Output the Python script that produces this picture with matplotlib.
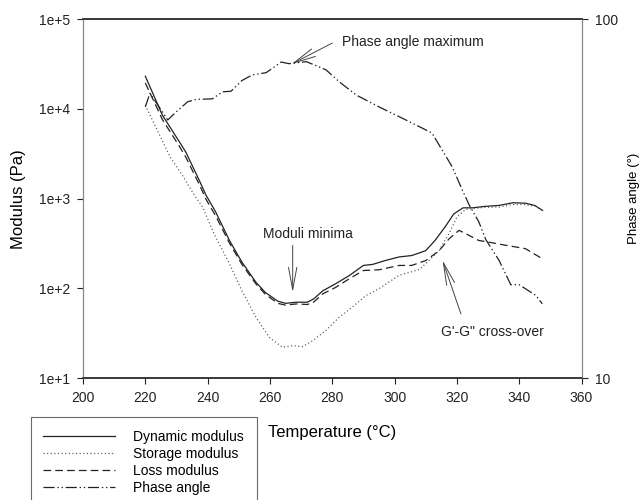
import numpy as np
import matplotlib
matplotlib.use("Agg")
import matplotlib.pyplot as plt
from matplotlib.ticker import FuncFormatter, NullLocator, FixedLocator

plt.rcParams['font.family'] = ['Liberation Sans', 'DejaVu Sans']
plt.rcParams['lines.scale_dashes'] = False

# temperature (°C) and moduli (Pa)
temp_dyn = [220, 225.5, 231, 233, 237.5, 239.5, 242.5, 247, 251, 255.5, 258.5, 262.5,
            265, 268.5, 272, 274, 277, 281, 285.5, 290, 293, 297, 301.5, 305.5, 310,
            313, 316.5, 319, 322, 325, 329, 333.5, 338, 342, 345, 347.5]
dynamic = [23200, 8500, 4270, 3300, 1550, 1090, 720, 342, 196, 117, 90, 72,
           68, 70, 70, 76, 94, 112, 139, 180, 185, 204, 224, 232, 263,
           342, 500, 676, 790, 790, 820, 840, 900, 890, 840, 740]

temp_sto = [220, 224.5, 228, 232, 235.7, 238.4, 242, 247, 251, 255.5, 259.8, 264,
            267.3, 270.5, 273.7, 278, 282.2, 286.5, 290.8, 295, 301.5, 308, 314.3,
            317.5, 320, 322.8, 329, 333.5, 338, 342, 345.3, 347.4]
storage = [11000, 5200, 2900, 1800, 1100, 805, 410, 188, 94, 47.5, 28.4, 22,
           22.9, 22.4, 26, 34, 47.5, 62, 83, 99, 140, 162, 263,
           410, 623, 760, 800, 805, 860, 860, 820, 740]

temp_loss = [220, 225.5, 231, 233, 237.5, 239.5, 242.5, 247, 251, 255.5, 258.5, 262.5,
             265, 268.5, 272, 274, 277, 281, 285.5, 290, 295, 301.5, 305.5, 310,
             314.3, 317.5, 320.7, 322.8, 327, 330.3, 335.7, 342, 347.4]
loss = [19500, 7600, 3800, 2900, 1400, 980, 650, 320, 185, 112, 86, 68,
        65, 67, 66, 70, 87, 102, 128, 158, 161, 180, 180, 204,
        263, 357, 443, 408, 342, 327, 302, 277, 214]

temp_phase = [220, 221.5, 227.2, 229.9, 233.6, 236.3, 241.5, 244.8, 247.5, 251, 254.4,
              258.8, 263.6, 266.2, 271.7, 278, 282.2, 287.7, 295, 305.6, 312, 315.9,
              318.5, 321.3, 324, 327, 329.3, 333.5, 337.3, 340, 342.6, 345.3, 347.4]
phase = [57, 62.2, 52.4, 55.2, 58.9, 59.8, 60, 62.8, 63, 67.5, 70,
         71, 76, 75.2, 76.2, 72.3, 67, 61.5, 57, 51.4, 48.2, 42.3,
         38.8, 34.1, 30.3, 27.3, 24.3, 21.3, 18.2, 18.2, 17.6, 17.0, 16.1]

fig = plt.figure(figsize=(6.44, 5), dpi=100)
ax = fig.add_axes([83 / 644, 1 - 378 / 500, (581.5 - 83) / 644, (378 - 19.3) / 500])
ax2 = ax.twinx()

dark = '#222222'
l1, = ax.plot(temp_dyn, dynamic, color=dark, lw=0.9, label='Dynamic modulus')
l2, = ax.plot(temp_sto, storage, color='#555555', lw=0.9, ls=(0, (0.8, 1.8)),
              label='Storage modulus')
l3, = ax.plot(temp_loss, loss, color=dark, lw=0.9, ls=(0, (5.5, 3)), label='Loss modulus')
l4, = ax2.plot(temp_phase, phase, color=dark, lw=0.9, ls=(0, (8, 2, 1, 2, 1, 2)),
               label='Phase angle')

ax.set_yscale('log')
ax.set_ylim(10, 1e5)
ax.set_xlim(200, 360)
ax.set_xticks(np.arange(200, 361, 20))
ax.set_yticks([10, 100, 1000, 1e4, 1e5])
ax.yaxis.set_minor_locator(NullLocator())
ax.yaxis.set_major_formatter(FuncFormatter(lambda v, p: '1e+%d' % round(np.log10(v))))

ax2.set_yscale('log')
ax2.set_ylim(10, 100)
ax2.yaxis.set_major_locator(FixedLocator([10, 100]))
ax2.yaxis.set_minor_locator(NullLocator())
ax2.yaxis.set_major_formatter(FuncFormatter(lambda v, p: '%d' % round(v)))

for a in (ax, ax2):
    a.tick_params(which='major', direction='out', length=4.5, width=0.8, colors=dark,
                  labelsize=10, pad=5)
    a.spines['top'].set_color('#333333')
    a.spines['bottom'].set_color('#333333')
    a.spines['left'].set_color('#888888')
    a.spines['right'].set_color('#888888')
    a.spines['top'].set_linewidth(1.1)
    a.spines['bottom'].set_linewidth(1.1)

ax.set_xlabel('Temperature (°C)', fontsize=12, labelpad=14)
ax.set_ylabel('Modulus (Pa)', fontsize=12, labelpad=9)
ax2.set_ylabel('Phase angle (°)', fontsize=9.5, labelpad=7)

arrow = dict(arrowstyle='->,head_length=1.6,head_width=0.3', color='#444444', lw=0.7,
             mutation_scale=10, shrinkA=0, shrinkB=0)
ax.annotate('', xy=(266.9, 10 ** 4.5), xytext=(280, 10 ** 4.735), arrowprops=arrow)
ax.text(283.2, 10 ** 4.746, 'Phase angle maximum', fontsize=10, ha='left', va='center',
        color=dark)
ax.annotate('', xy=(267.3, 90.4), xytext=(267.3, 301), arrowprops=arrow)
ax.text(272.3, 406, 'Moduli minima', fontsize=10, ha='center', va='center', color=dark)
ax.annotate('', xy=(315.4, 205), xytext=(321.3, 51.9), arrowprops=arrow)
ax.text(331.3, 32.3, 'G\'-G" cross-over', fontsize=10, ha='center', va='center', color=dark)

leg = fig.legend(handles=[l1, l2, l3, l4], loc='upper left',
                 bbox_to_anchor=(30.7 / 644, 1 - 417 / 500), borderaxespad=0,
                 fontsize=10, frameon=True, fancybox=False, handlelength=5.2,
                 handletextpad=1.3, labelspacing=0.22, borderpad=0.9)
leg.get_frame().set_edgecolor('#444444')
leg.get_frame().set_linewidth(0.8)

fig.savefig('out.png', dpi=100)
